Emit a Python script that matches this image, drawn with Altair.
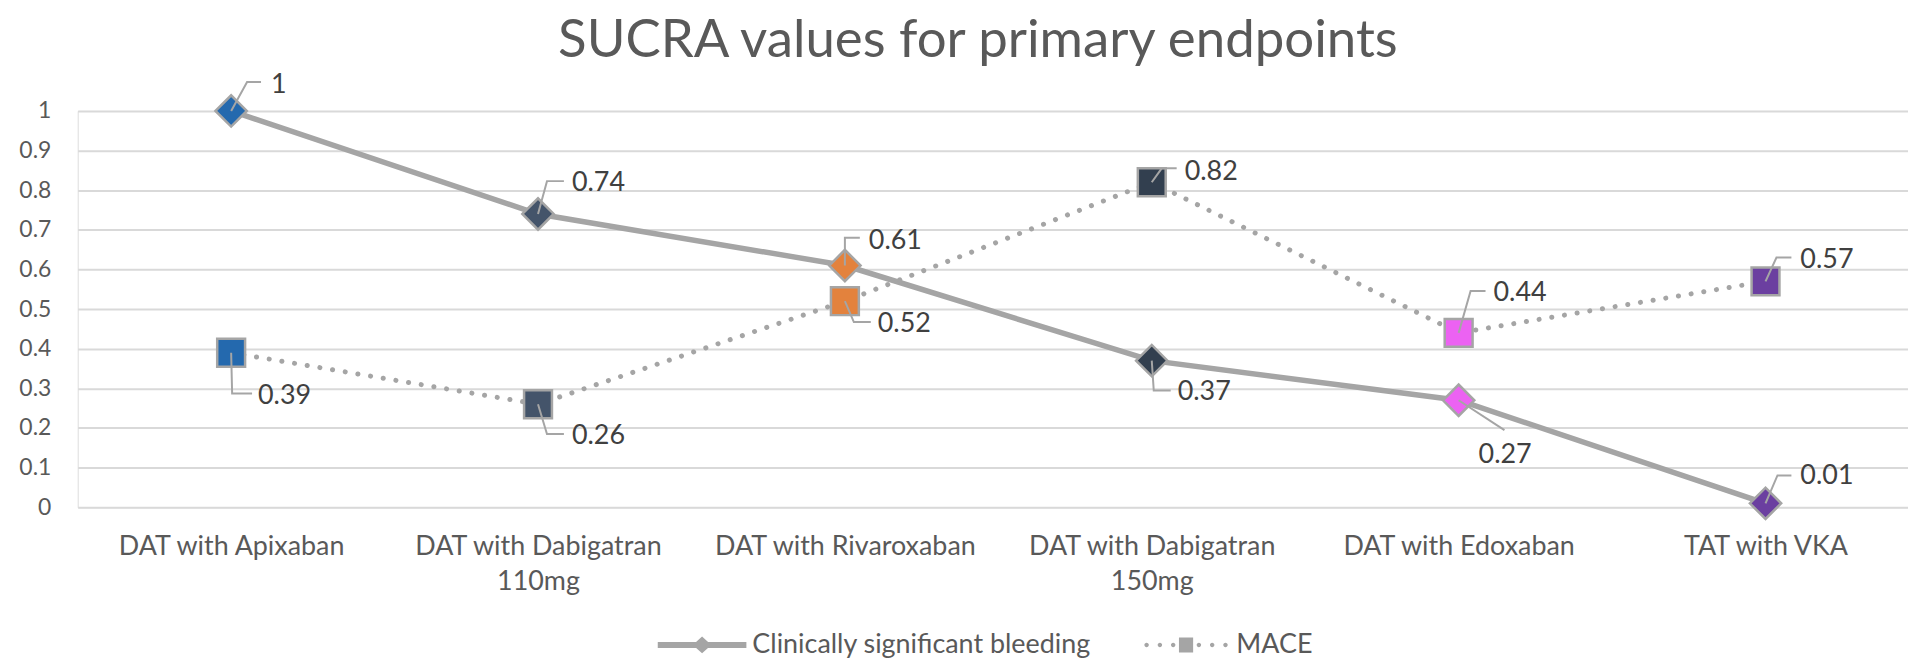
import json
import math
import altair as alt
import pandas as pd

# ---------------- data ----------------
categories = [
    "DAT with Apixaban",
    "DAT with Dabigatran\n110mg",
    "DAT with Rivaroxaban",
    "DAT with Dabigatran\n150mg",
    "DAT with Edoxaban",
    "TAT with VKA",
]
series_names = ["Clinically significant bleeding", "MACE"]
bleeding = [1, 0.74, 0.61, 0.37, 0.27, 0.01]
mace = [0.39, 0.26, 0.52, 0.82, 0.44, 0.57]
marker_colors = ["#2469AE", "#44546A", "#E3823D", "#323F4F", "#EC62F2", "#6B3FA0"]
y_ticks = [0, 0.1, 0.2, 0.3, 0.4, 0.5, 0.6, 0.7, 0.8, 0.9, 1]

# ---------------- styling / layout ----------------
# callout placement (pixels from marker): elbow dx, elbow dy, end dx, end dy, text dx, text dy
bleeding_callouts = [
    (16, -29, 30, -29, 40, -26),
    (9, -33, 26, -33, 34, -31),
    (0, -28, 15, -28, 24, -25),
    (2, 30, 19, 30, 26, 32),
    (46, 30, 46, 30, 20, 55),
    (12, -28, 26, -28, 35, -27),
]
mace_callouts = [
    (1, 41, 21, 41, 27, 44),
    (9, 30, 26, 30, 34, 32),
    (9, 21, 26, 21, 33, 23),
    (10, -14, 25, -14, 33, -10),
    (12, -42, 27, -42, 35, -40),
    (11, -24, 26, -24, 35, -21),
]

PLOT_W = 1838
X_RANGE = 1849
PLOT_H = 398
U = X_RANGE / len(categories)   # px per category step
V = PLOT_H                      # px per unit value
GRAY = "#A5A5A5"
TEXT = "#595959"
FONT = "Lato"
LEG_SIZE = 7921

# ---------------- tables ----------------
rows = []
for s, vals in zip(series_names, [bleeding, mace]):
    for i, (c, v) in enumerate(zip(categories, vals)):
        rows.append({"x": i, "y": v, "category": c, "series": s, "text": f"{v:g}"})
points = pd.DataFrame(rows)
bleed_df = points[points.series == series_names[0]]
mace_df = points[points.series == series_names[1]]

leader_rows, label_rows = [], []
lid = 0
for vals, calls in [(bleeding, bleeding_callouts), (mace, mace_callouts)]:
    for i, (v, c) in enumerate(zip(vals, calls)):
        ex, ey, nx, ny, tx, ty = c
        leader_rows += [
            {"id": lid, "ord": 0, "x": i, "y": v},
            {"id": lid, "ord": 1, "x": i + ex / U, "y": v - ey / V},
            {"id": lid, "ord": 2, "x": i + nx / U, "y": v - ny / V},
        ]
        label_rows.append({"x": i + tx / U, "y": v - ty / V, "text": f"{v:g}"})
        lid += 1
leaders = pd.DataFrame(leader_rows)
labels = pd.DataFrame(label_rows)

# ---------------- encodings ----------------
label_expr = json.dumps([c.split("\n") for c in categories]) + "[datum.value]"
X = alt.X(
    "x:Q",
    scale=alt.Scale(domain=[-0.5, len(categories) - 0.5], range=[0, X_RANGE], nice=False, zero=False),
    axis=alt.Axis(
        values=list(range(len(categories))), labelExpr=label_expr, grid=False, ticks=False,
        tickSize=0, domain=False, labelFont=FONT, labelFontSize=27, labelColor=TEXT,
        labelPadding=26, labelLineHeight=36, labelBaseline="top", labelAngle=0,
        labelOverlap=False, labelFlush=False, labelBound=False, labelLimit=0, title=None,
    ),
)
Y = alt.Y(
    "y:Q",
    scale=alt.Scale(domain=[0, 1], nice=False, zero=False),
    axis=alt.Axis(
        values=y_ticks, format=".1~f", grid=True, gridColor="#D9D9D9", gridWidth=2,
        ticks=False, tickSize=0, domain=False, labelFont=FONT, labelFontSize=23,
        labelColor=TEXT, labelPadding=27, title=None,
    ),
)
fill = alt.Fill("category:N", scale=alt.Scale(domain=categories, range=marker_colors), legend=None)

bleed_line = alt.Chart(bleed_df).mark_line(color=GRAY, strokeWidth=5.5).encode(x=X, y=Y)
mace_line = alt.Chart(mace_df).mark_line(
    color=GRAY, strokeWidth=5, strokeDash=[0.1, 12.8], strokeCap="round"
).encode(x=X, y=Y)

diamonds = alt.Chart(bleed_df).mark_point(
    shape="diamond", filled=True, size=990, stroke=GRAY, strokeWidth=2.5, opacity=1
).encode(x=X, y=Y, fill=fill)
squares = alt.Chart(mace_df).mark_point(
    shape="square", filled=True, size=784, stroke=GRAY, strokeWidth=2.5, opacity=1
).encode(x=X, y=Y, fill=fill)

leader_lines = alt.Chart(leaders).mark_line(color=GRAY, strokeWidth=2).encode(
    x=X, y=Y, detail="id:N", order="ord:O"
)
value_labels = alt.Chart(labels).mark_text(
    align="left", baseline="middle", font=FONT, fontSize=27, color="#404040"
).encode(x=X, y=Y, text="text:N")

# legend symbols: line + marker drawn as custom paths in unit coordinates
path_bleed = "M-1,-0.067H1V0.067H-1ZM0,-0.19L0.21,0L0,0.19L-0.21,0Z"
dot_r = 0.05
dots = ""
for cx in [-0.89, -0.59, -0.29, 0.29, 0.59, 0.89]:
    dots += (f"M{cx - dot_r:.3f},0A{dot_r},{dot_r} 0 1,0 {cx + dot_r:.3f},0"
             f"A{dot_r},{dot_r} 0 1,0 {cx - dot_r:.3f},0Z")
path_mace = "M-0.16,-0.17H0.16V0.17H-0.16Z" + dots

legend_layer = alt.Chart(points).transform_filter("false").mark_point(
    filled=True, color=GRAY, opacity=1
).encode(
    x=X, y=Y,
    shape=alt.Shape(
        "series:N",
        scale=alt.Scale(domain=series_names, range=[path_bleed, path_mace]),
        legend=alt.Legend(
            orient="none", legendX=582.5, legendY=536 - math.sqrt(LEG_SIZE) / 2,
            direction="horizontal", title=None,
            symbolSize=LEG_SIZE, symbolFillColor=GRAY, symbolStrokeWidth=0, symbolOpacity=1,
            labelFont=FONT, labelFontSize=27, labelColor=TEXT, labelOffset=6,
            columnPadding=50, padding=0, labelLimit=0,
        ),
    ),
)

chart = alt.layer(
    bleed_line, mace_line, diamonds, squares, leader_lines, value_labels, legend_layer
).properties(
    width=PLOT_W,
    height=PLOT_H,
    autosize=alt.AutoSizeParams(type="none"),
    padding={"left": 70, "top": 102, "right": 0, "bottom": 154},
    title=alt.TitleParams(
        "SUCRA values for primary endpoints", font=FONT, fontSize=53, fontWeight="normal",
        color=TEXT, anchor="middle", frame="group", offset=3, dx=-15,
    ),
).configure_view(stroke=None).configure(background="white")

chart.save("out.html", embed_options={"renderer": "svg", "actions": False})
